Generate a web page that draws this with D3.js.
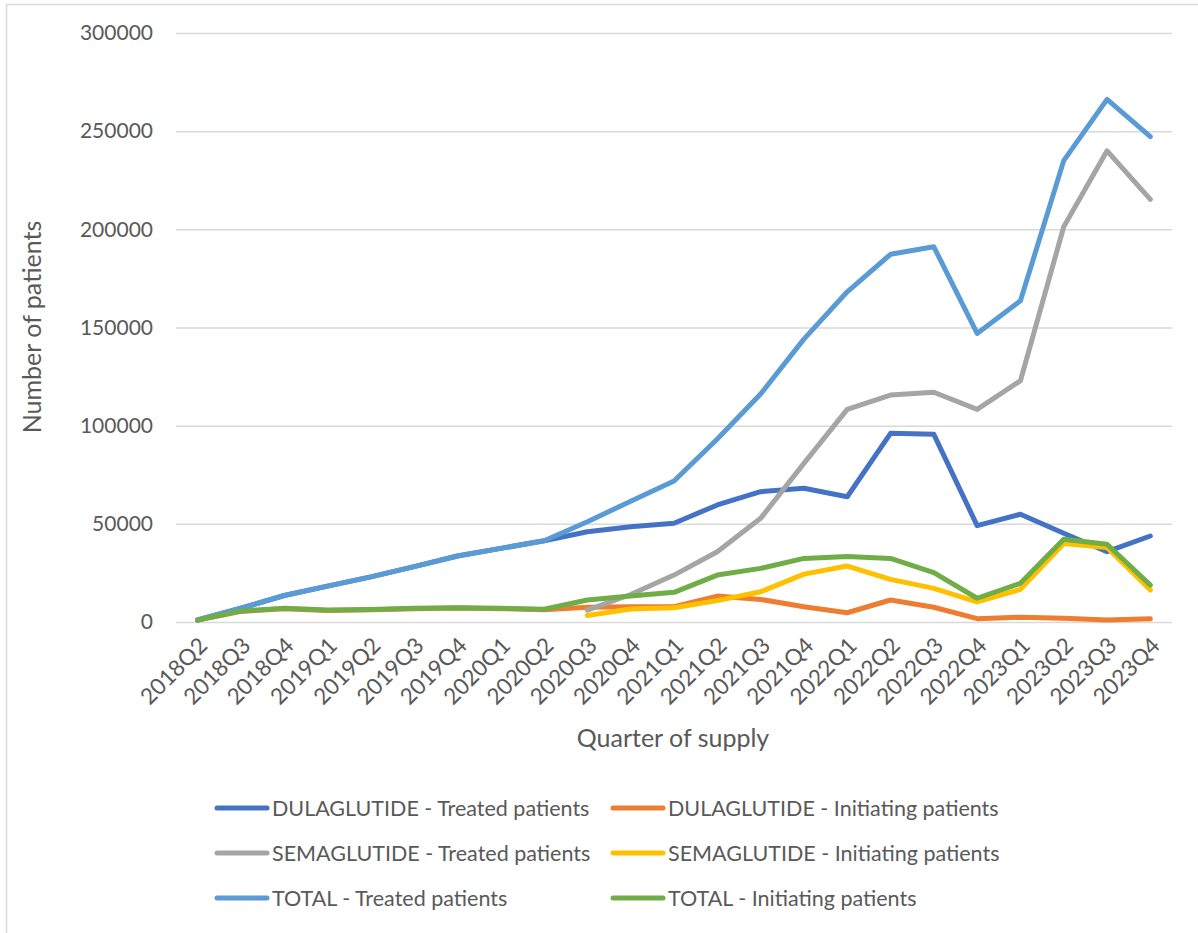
<!DOCTYPE html>
<html>
<head>
<meta charset="utf-8">
<script src="https://cdn.jsdelivr.net/npm/d3@7"></script>
<style>
  html, body { margin: 0; padding: 0; background: #fff; }
  svg { display: block; font-family: Lato, "Open Sans", sans-serif; }
</style>
</head>
<body>
<svg id="chart" width="1198" height="933"></svg>
<script>
// Quarters of supply
const quarters = [
  "2018Q2","2018Q3","2018Q4","2019Q1","2019Q2","2019Q3","2019Q4",
  "2020Q1","2020Q2","2020Q3","2020Q4","2021Q1","2021Q2","2021Q3","2021Q4",
  "2022Q1","2022Q2","2022Q3","2022Q4","2023Q1","2023Q2","2023Q3","2023Q4"
];

// Patient counts per quarter (null = no supply yet)
const dulaTreated = [1000, 7000, 13500, 18300, 23000, 28200, 33600, 37500, 41400, 46000, 48500,
  50300, 59600, 66400, 68100, 63800, 96100, 95600, 49100, 54900, 45200, 35800, 43800];
const dulaInitiating = [1000, 5400, 6800, 5900, 6200, 6800, 7100, 6800, 6300, 7500, 7800,
  7800, 13200, 11500, 7800, 4700, 11200, 7500, 1700, 2400, 1900, 1000, 1600];
const semaTreated = [null, null, null, null, null, null, null, null, null, 6000, 14000,
  23900, 35800, 52800, 80800, 108300, 115600, 117000, 108300, 122900, 201300, 240000, 215300];
const semaInitiating = [null, null, null, null, null, null, null, null, null, 3300, 6600,
  7300, 10900, 15400, 24400, 28500, 21700, 17100, 10300, 16600, 40000, 38000, 16300];
const totalTreated = [1000, 7000, 13500, 18300, 23000, 28200, 33600, 37500, 41400, 51100, 61500,
  71800, 93200, 116100, 144100, 168200, 187300, 191100, 147000, 163600, 235000, 266200, 247200];
const totalInitiating = [1000, 5600, 7000, 6100, 6400, 7000, 7300, 7000, 6500, 11200, 13200,
  15100, 23900, 27300, 32400, 33300, 32400, 25100, 12100, 19700, 42100, 39600, 18800];

const yTicks = [0, 50000, 100000, 150000, 200000, 250000, 300000];

const seriesNames = [
  "DULAGLUTIDE - Treated patients", "DULAGLUTIDE - Initiating patients",
  "SEMAGLUTIDE - Treated patients", "SEMAGLUTIDE - Initiating patients",
  "TOTAL - Treated patients", "TOTAL - Initiating patients"
];
const seriesColors = ["#4472C4", "#ED7D31", "#A5A5A5", "#FFC000", "#5B9BD5", "#70AD47"];
const seriesValues = [dulaTreated, dulaInitiating, semaTreated, semaInitiating, totalTreated, totalInitiating];

const series = seriesNames.map((name, i) => ({ name, color: seriesColors[i], values: seriesValues[i] }));

const svg = d3.select("#chart");
const plot = { left: 176, right: 1172, top: 33, bottom: 622 };
const textColor = "#595959";

// Chart frame
svg.append("rect")
  .attr("x", 6.5).attr("y", 4.5)
  .attr("width", 1300).attr("height", 1100)
  .attr("fill", "none").attr("stroke", "#d9d9d9").attr("stroke-width", 1.5);

const x = d3.scaleBand().domain(quarters).range([plot.left, plot.right]);
const y = d3.scaleLinear().domain([0, 300000]).range([plot.bottom, plot.top]);
const cx = q => x(q) + x.bandwidth() / 2;

// Horizontal gridlines + y labels
const yAxis = d3.axisLeft(y).tickValues(yTicks).tickSize(-(plot.right - plot.left)).tickPadding(23).tickFormat(d3.format("d"));
const gy = svg.append("g").attr("transform", `translate(${plot.left},0)`).call(yAxis);
gy.select(".domain").remove();
gy.selectAll(".tick line").attr("stroke", "#d9d9d9").attr("stroke-width", 1.5);
gy.selectAll(".tick text").attr("fill", textColor).style("font-size", "21px").style("font-family", "Lato, sans-serif");

// X axis labels, rotated
const xAxis = d3.axisBottom(x).tickSize(0).tickPadding(0);
const gx = svg.append("g").attr("transform", `translate(0,${plot.bottom})`).call(xAxis);
gx.select(".domain").remove();
gx.selectAll(".tick text")
  .attr("fill", textColor)
  .style("font-size", "22.5px").style("font-family", "Lato, sans-serif")
  .attr("text-anchor", "end")
  .attr("dy", "0")
  .attr("transform", "translate(11,25) rotate(-45)");

// Lines
const line = d3.line()
  .defined(d => d.v !== null)
  .x(d => cx(d.q))
  .y(d => y(d.v));

svg.append("g").selectAll("path")
  .data(series)
  .join("path")
  .attr("d", s => line(s.values.map((v, i) => ({ q: quarters[i], v }))))
  .attr("fill", "none")
  .attr("stroke", s => s.color)
  .attr("stroke-width", 5)
  .attr("stroke-linejoin", "round")
  .attr("stroke-linecap", "round");

// Axis titles
svg.append("text")
  .attr("transform", "translate(41,327) rotate(-90)")
  .attr("text-anchor", "middle")
  .attr("fill", textColor)
  .style("font-size", "25px")
  .text("Number of patients");

svg.append("text")
  .attr("x", 673).attr("y", 747)
  .attr("text-anchor", "middle")
  .attr("fill", textColor)
  .style("font-size", "25px")
  .text("Quarter of supply");

// Legend
const legendCols = [215, 611];
const legendRows = [808, 853, 898];
const lg = svg.append("g").selectAll("g")
  .data(series)
  .join("g")
  .attr("transform", (d, i) => `translate(${legendCols[i % 2]},${legendRows[Math.floor(i / 2)]})`);
lg.append("line")
  .attr("x1", 2).attr("x2", 52).attr("y1", 0).attr("y2", 0)
  .attr("stroke", d => d.color).attr("stroke-width", 5).attr("stroke-linecap", "round");
lg.append("text")
  .attr("x", 57).attr("y", 7.5)
  .attr("fill", textColor)
  .style("font-size", "21.5px")
  .text(d => d.name);
</script>
</body>
</html>
